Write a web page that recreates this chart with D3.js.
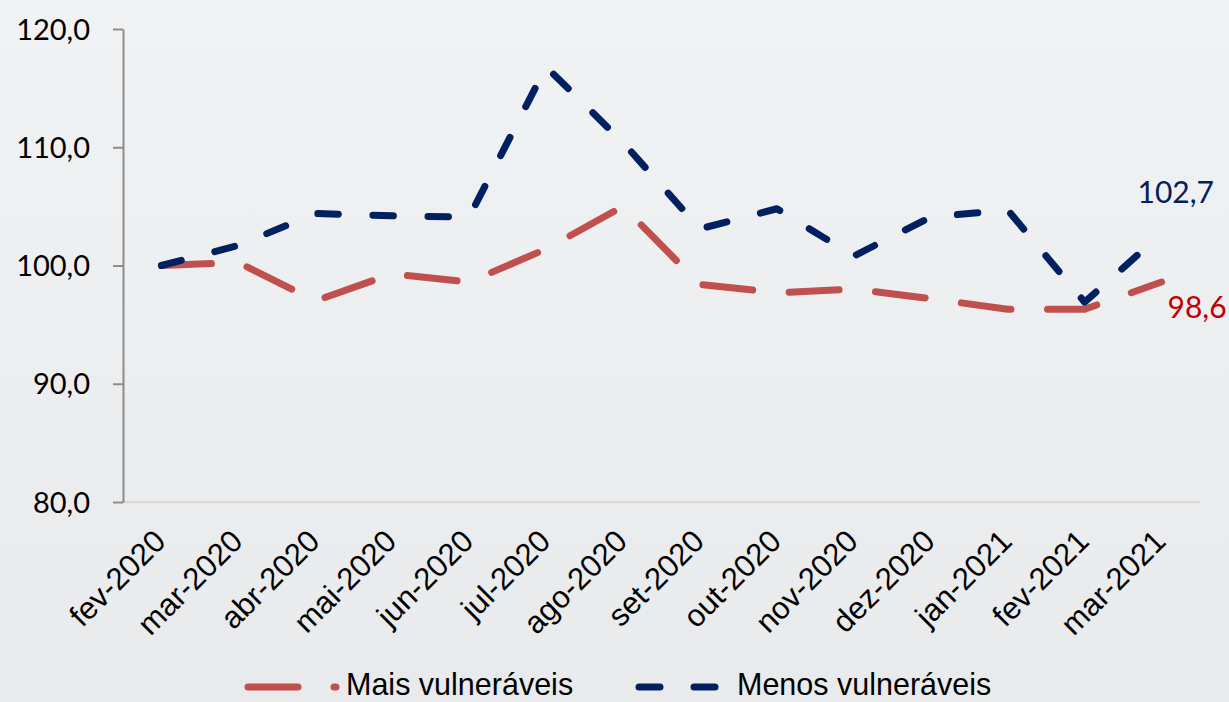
<!DOCTYPE html>
<html>
<head>
<meta charset="utf-8">
<script src="https://cdn.jsdelivr.net/npm/d3@7"></script>
<style>
  html, body { margin: 0; padding: 0; overflow: hidden; }
  body { width: 1229px; height: 702px; }
</style>
</head>
<body>
<svg id="chart" width="1229" height="702"></svg>
<script>
const categories = ["fev-2020","mar-2020","abr-2020","mai-2020","jun-2020","jul-2020","ago-2020","set-2020","out-2020","nov-2020","dez-2020","jan-2021","fev-2021","mar-2021"];
const maisVulneraveis = [100.0, 100.25, 97.0, 99.3, 98.6, 101.4, 105.0, 98.4, 97.7, 98.0, 97.2, 96.3, 96.3, 98.6];
const menosVulneraveis = [100.0, 101.7, 104.4, 104.2, 104.1, 116.8, 110.4, 103.1, 104.8, 100.8, 104.1, 104.7, 96.9, 102.7];
const yTicks = [80, 90, 100, 110, 120];
const seriesNames = ["Mais vulneráveis", "Menos vulneráveis"];
const lastLabels = ["98,6", "102,7"];

const svg = d3.select("#chart");
const W = 1229, H = 702;
const mLeft = 123, mRight = 1200, mTop = 29, mBottom = 502;

// background
const defs = svg.append("defs");
const grad = defs.append("linearGradient").attr("id", "bg").attr("x1", 0).attr("y1", 0).attr("x2", 0).attr("y2", 1);
grad.append("stop").attr("offset", "0%").attr("stop-color", "#f1f2f4");
grad.append("stop").attr("offset", "100%").attr("stop-color", "#e8eaec");
svg.append("rect").attr("width", W).attr("height", H).attr("fill", "url(#bg)");

const x = d3.scalePoint().domain(categories).range([mLeft, mRight]).padding(0.5);
const y = d3.scaleLinear().domain([80, 120]).range([mBottom, mTop]);

const fmt = v => d3.format(".1f")(v).replace(".", ",");

// x axis line
svg.append("line").attr("x1", mLeft).attr("x2", mRight).attr("y1", y(80)).attr("y2", y(80))
  .attr("stroke", "#d9d9d9").attr("stroke-width", 2.5);

// y axis
const yAxis = d3.axisLeft(y).tickValues(yTicks).tickSize(10).tickSizeOuter(0).tickFormat(fmt);
const gy = svg.append("g").attr("transform", `translate(${mLeft},0)`).call(yAxis);
gy.select(".domain").attr("stroke", "#8c8c8c").attr("stroke-width", 2);
gy.selectAll(".tick line").attr("stroke", "#8c8c8c").attr("stroke-width", 2);
gy.selectAll(".tick text").attr("x", -33).attr("dy", "0.35em")
  .attr("font-family", "Lato, 'Open Sans', sans-serif").attr("font-size", 29).attr("fill", "#000");

// x labels
const gx = svg.append("g");
gx.selectAll("text").data(categories).join("text")
  .attr("transform", d => `translate(${x(d) + 6},${y(80) + 41}) rotate(-45)`)
  .attr("text-anchor", "end")
  .attr("font-family", "'Liberation Sans', Arial, sans-serif").attr("font-size", 31).attr("fill", "#000")
  .text(d => d);

const line = d3.line().x((d, i) => x(categories[i])).y(d => y(d));

svg.append("path").datum(maisVulneraveis).attr("d", line)
  .attr("fill", "none").attr("stroke", "#c0504d").attr("stroke-width", 7)
  .attr("stroke-linecap", "round").attr("stroke-linejoin", "round").attr("stroke-dasharray", "50,36.6");

svg.append("path").datum(menosVulneraveis).attr("d", line)
  .attr("fill", "none").attr("stroke", "#002060").attr("stroke-width", 7)
  .attr("stroke-linecap", "round").attr("stroke-linejoin", "round").attr("stroke-dasharray", "20.5,34.6");

// data labels for last points
const last = categories[categories.length - 1];
svg.append("text").attr("x", x(last) - 24).attr("y", y(menosVulneraveis[13]) - 31)
  .attr("font-family", "Lato, sans-serif").attr("font-size", 30).attr("fill", "#002060").text(lastLabels[1]);
svg.append("text").attr("x", x(last) + 6).attr("y", y(maisVulneraveis[13]) + 36)
  .attr("font-family", "Lato, sans-serif").attr("font-size", 30).attr("fill", "#c00000").text(lastLabels[0]);

// legend
const ly = 687;
const lg = svg.append("g");
lg.append("line").attr("x1", 248).attr("x2", 336).attr("y1", ly).attr("y2", ly)
  .attr("stroke", "#c0504d").attr("stroke-width", 7).attr("stroke-linecap", "round").attr("stroke-dasharray", "50,36");
lg.append("text").attr("x", 346).attr("y", 695).attr("font-family", "'Liberation Sans', Arial, sans-serif")
  .attr("font-size", 30.5).attr("fill", "#000").text(seriesNames[0]);
lg.append("line").attr("x1", 639).attr("x2", 715).attr("y1", ly).attr("y2", ly)
  .attr("stroke", "#002060").attr("stroke-width", 7).attr("stroke-linecap", "round").attr("stroke-dasharray", "21,34");
lg.append("text").attr("x", 737).attr("y", 695).attr("font-family", "'Liberation Sans', Arial, sans-serif")
  .attr("font-size", 30.5).attr("fill", "#000").text(seriesNames[1]);
</script>
</body>
</html>
